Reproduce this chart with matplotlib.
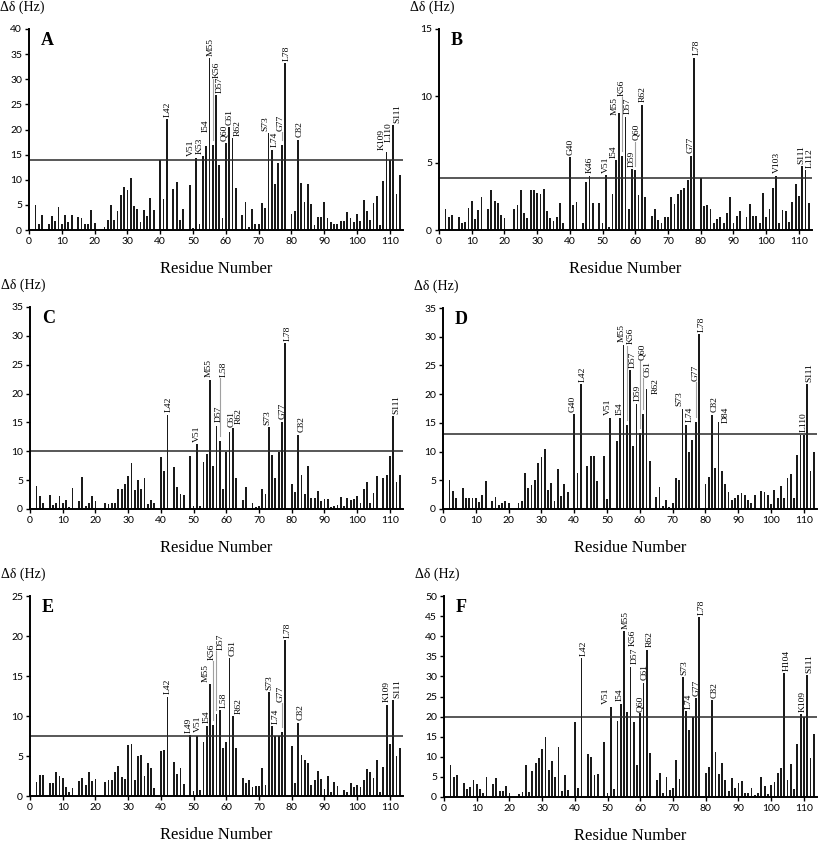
import numpy as np
import matplotlib
matplotlib.use("Agg")
import matplotlib.pyplot as plt

# residue numbers 1..113, 0 = not observed
residues = np.arange(1, 114)

vals_A = [0, 5.0, 1.2, 3.0, 0, 1.1, 2.7, 1.8, 4.5, 1.1,
          3.0, 1.5, 3.0, 0, 2.5, 2.3, 1.1, 1.1, 4.0, 1.3,
          0, 0, 0.5, 2.0, 5.0, 2.0, 3.7, 7.0, 8.6, 8.0,
          10.3, 4.8, 4.2, 1.5, 4.0, 2.8, 6.3, 4.0, 0, 14.0,
          6.2, 22.0, 0, 8.2, 9.5, 2.0, 4.1, 0, 9.0, 0.4,
          14.3, 1.2, 14.7, 16.8, 34.2, 16.9, 26.8, 12.9, 2.3, 17.3,
          20.5, 18.3, 8.4, 0, 3.0, 5.6, 0.6, 4.1, 1.1, 1.2,
          5.4, 4.4, 19.3, 16.0, 9.2, 13.4, 16.9, 33.2, 0, 3.2,
          3.8, 18.0, 9.4, 5.5, 9.2, 5.1, 1.0, 2.5, 2.5, 5.5,
          2.3, 1.5, 1.2, 1.2, 1.7, 1.8, 3.5, 2.4, 1.6, 3.1,
          1.8, 5.9, 3.8, 1.9, 5.4, 6.7, 1.0, 9.8, 15.5, 13.9,
          20.8, 7.1, 10.9]

vals_B = [0, 1.55, 0.95, 1.1, 0, 1.0, 0.5, 0.6, 1.65, 2.15,
          0.8, 1.5, 2.5, 0, 1.6, 3.0, 2.2, 2.0, 1.1, 0.9,
          0, 0, 1.6, 1.9, 3.0, 1.3, 0.9, 2.95, 3.0, 2.75,
          2.7, 3.05, 1.4, 0.9, 0.7, 1.0, 2.0, 0.5, 0, 5.45,
          1.85, 2.1, 0, 0.5, 3.55, 4.05, 2.05, 0, 2.0, 0.5,
          4.1, 0.2, 2.7, 5.2, 8.75, 5.5, 8.45, 1.6, 4.55, 4.45,
          2.6, 9.35, 2.5, 0, 1.05, 1.6, 0.75, 0.55, 0.95, 0.95,
          2.45, 1.95, 2.7, 2.95, 3.15, 3.75, 5.55, 12.85, 0, 3.85,
          1.8, 1.9, 1.55, 0.5, 0.85, 0.95, 0.55, 1.25, 2.5, 0.5,
          1.05, 1.45, 0, 1.0, 1.95, 1.05, 1.05, 0.5, 2.75, 1.0,
          1.55, 3.1, 4.05, 0.55, 1.5, 1.45, 0.6, 2.1, 3.45, 2.55,
          4.75, 4.45, 2.05]

vals_C = [0, 4.0, 2.25, 1.1, 0, 2.5, 0.7, 1.1, 2.25, 1.1,
          1.6, 0.35, 3.65, 0, 1.3, 5.55, 0.6, 1.1, 2.25, 1.3,
          0, 0, 1.1, 0.8, 1.1, 1.1, 3.55, 3.4, 4.35, 5.75,
          8.0, 3.25, 5.05, 3.5, 5.45, 0.9, 1.6, 1.1, 0, 9.0,
          6.65, 16.35, 0, 7.3, 3.8, 2.65, 2.5, 0, 9.15, 0.5,
          11.2, 0.6, 8.2, 9.5, 22.4, 7.5, 14.4, 11.8, 3.5, 9.8,
          13.4, 14.0, 5.4, 0, 1.6, 3.8, 0.2, 1.0, 0.3, 0.6,
          3.5, 2.65, 14.2, 9.3, 5.4, 9.9, 15.1, 28.7, 0, 4.3,
          2.9, 12.9, 5.85, 2.65, 7.45, 1.95, 1.95, 3.2, 1.3, 1.7,
          1.7, 0.35, 0.6, 0.7, 2.1, 0.45, 1.85, 1.5, 1.7, 2.25,
          1.1, 3.45, 4.6, 1.05, 2.85, 5.8, 0.25, 5.3, 5.95, 9.15,
          16.1, 4.6, 5.95]

vals_D = [0, 5.0, 3.1, 1.85, 0, 3.7, 2.0, 2.0, 2.0, 2.0,
          1.3, 2.5, 4.9, 0, 1.45, 2.1, 0.75, 1.1, 1.4, 1.0,
          0, 0, 1.1, 1.45, 6.2, 3.65, 4.25, 5.0, 8.0, 9.1,
          10.4, 3.3, 4.55, 1.45, 7.0, 2.2, 4.35, 2.9, 0, 16.5,
          6.3, 21.7, 0, 7.45, 9.2, 9.2, 4.95, 0, 9.25, 1.8,
          15.9, 0.2, 11.8, 15.9, 28.6, 14.6, 24.2, 11.0, 18.3, 13.2,
          16.6, 20.9, 8.4, 0, 2.1, 3.8, 0.5, 1.55, 0.4, 1.1,
          5.4, 5.1, 17.5, 14.7, 9.95, 12.1, 15.1, 30.4, 0, 4.3,
          5.5, 16.4, 7.2, 15.1, 6.6, 4.4, 2.95, 1.55, 1.95, 2.5,
          2.8, 2.5, 1.5, 1.05, 2.45, 0, 3.1, 2.95, 2.5, 0.9,
          3.35, 1.95, 4.0, 1.9, 5.4, 6.1, 1.95, 9.4, 12.95, 12.95,
          21.7, 6.6, 9.9]

vals_E = [0, 1.75, 2.6, 2.6, 0, 1.6, 1.6, 3.0, 2.5, 2.25,
          1.1, 0.5, 1.0, 0, 1.9, 2.25, 1.35, 2.95, 1.85, 2.15,
          0, 0, 1.8, 2.0, 2.0, 3.0, 3.8, 2.35, 2.1, 6.4,
          6.5, 2.0, 4.95, 5.15, 2.45, 4.1, 3.5, 0.95, 0, 5.6,
          5.7, 12.4, 0, 4.3, 2.7, 3.45, 1.5, 0, 7.6, 0.65,
          7.45, 0.8, 6.8, 8.75, 13.95, 8.9, 10.2, 10.7, 6.0, 6.7,
          17.2, 10.0, 6.0, 0, 2.25, 1.6, 2.05, 1.1, 1.25, 1.25,
          3.5, 1.4, 13.0, 8.7, 7.45, 7.45, 8.0, 19.5, 0, 6.3,
          1.65, 9.15, 5.15, 4.45, 4.1, 1.4, 1.95, 3.1, 2.1, 0.9,
          2.45, 0.5, 1.8, 1.25, 0, 0.8, 0.5, 1.6, 1.1, 1.4,
          1.1, 2.0, 3.4, 3.0, 2.25, 4.55, 0.5, 3.6, 11.4, 6.55,
          12.0, 4.95, 5.95]

vals_F = [0, 7.9, 5.0, 5.4, 0, 3.5, 2.1, 2.4, 4.25, 3.15,
          2.1, 1.1, 4.9, 0, 3.15, 4.65, 1.5, 1.5, 2.85, 1.0,
          0, 0, 0.75, 1.15, 8.05, 1.15, 6.4, 8.55, 9.75, 12.05,
          15.0, 6.65, 9.0, 4.9, 12.55, 1.6, 5.55, 1.75, 0, 18.55,
          2.25, 34.5, 0, 10.65, 10.0, 5.5, 5.75, 0, 13.7, 1.1,
          22.5, 2.0, 19.0, 23.2, 41.25, 21.1, 32.4, 18.7, 7.9, 20.8,
          28.4, 36.6, 10.9, 0, 4.35, 6.0, 1.1, 5.0, 1.75, 2.15,
          9.25, 4.6, 29.8, 21.3, 16.6, 19.9, 24.6, 44.75, 0, 5.9,
          7.5, 24.1, 11.3, 5.6, 8.5, 4.2, 1.5, 4.85, 2.25, 3.6,
          3.9, 1.1, 1.1, 2.15, 0.4, 1.1, 5.0, 2.65, 0.75, 3.1,
          3.65, 5.9, 7.25, 30.75, 4.35, 8.25, 2.0, 13.25, 20.6, 19.9,
          30.3, 9.8, 15.6]

thresholds = {"A": 14.0, "B": 3.9, "C": 10.0, "D": 13.0, "E": 7.5, "F": 19.8}
ymax = {"A": 40, "B": 15, "C": 35, "D": 35, "E": 25, "F": 50}

# label -> (x position, bottom y or None = just above the bar)
labels_A = {"L42": (42.4, None), "V51": (49.4, None), "K53": (51.9, None),
            "I54": (54.0, 19.6), "M55": (55.3, None), "K56": (57.1, 30.3),
            "D57": (58.1, None), "Q60": (59.4, None), "C61": (61.3, None),
            "R62": (63.6, None), "S73": (72.2, None), "L74": (74.8, None),
            "G77": (76.7, 19.8), "L78": (78.6, None), "C82": (82.4, None),
            "K109": (107.4, None), "L110": (109.7, 17.6), "S111": (112.2, None)}
labels_B = {"G40": (40.3, None), "K46": (46.1, None), "V51": (50.9, None),
            "I54": (53.4, None), "M55": (53.6, 8.55), "K56": (55.7, 10.0),
            "D57": (57.6, None), "D59": (58.8, None), "Q60": (60.4, 6.7),
            "R62": (62.2, None), "G77": (76.9, None), "L78": (78.8, None),
            "V103": (103.3, None), "S111": (110.6, None), "L112": (113.2, None)}
labels_C = {"L42": (42.5, None), "V51": (51.1, None), "M55": (54.7, None),
            "D57": (57.6, 15.0), "L58": (59.1, 22.9), "C61": (61.6, 14.2),
            "R62": (63.9, 14.8), "S73": (72.4, None), "G77": (77.2, None),
            "L78": (78.9, None), "C82": (83.0, None), "S111": (111.9, None)}
labels_D = {"G40": (39.5, None), "L42": (42.6, None), "V51": (50.3, None),
            "I54": (54.0, None), "M55": (54.6, None), "K56": (57.2, 28.7),
            "D57": (57.8, None), "D59": (59.3, None), "Q60": (60.7, 26.0),
            "C61": (62.3, 23.0), "R62": (64.9, 20.0), "S73": (72.0, None),
            "L74": (75.3, None), "G77": (76.9, 22.3), "L78": (78.7, None),
            "C82": (82.7, None), "D84": (86.1, 15.0), "L110": (110.0, None),
            "S111": (111.8, None)}
labels_E = {"L42": (42.1, None), "L49": (48.6, None), "V51": (51.2, 8.0),
            "I54": (54.1, 9.1), "M55": (53.7, None), "K56": (55.4, 17.0),
            "D57": (58.4, 18.3), "L58": (59.3, None), "C61": (61.8, None),
            "R62": (63.8, None), "S73": (73.1, None), "L74": (75.2, 9.0),
            "G77": (76.5, 11.8), "L78": (78.7, None), "C82": (82.6, None),
            "K109": (109.0, None), "S111": (112.2, None)}
labels_F = {"L42": (42.6, None), "V51": (49.5, None), "I54": (53.8, None),
            "M55": (55.4, None), "K56": (57.8, 37.5), "D57": (58.3, None),
            "Q60": (59.9, 21.2), "C61": (61.3, None), "R62": (62.9, None),
            "S73": (73.4, None), "L74": (74.9, 22.0), "G77": (77.1, None),
            "L78": (78.9, None), "C82": (82.7, None), "H104": (104.6, None),
            "K109": (109.6, None), "S111": (111.7, None)}

# labels joined to their bar by a thin grey line
leaders = {
    "A": ["K56", "G77"],
    "B": ["K56", "Q60"],
    "C": ["L58"],
    "D": ["K56", "Q60", "C61", "G77"],
    "E": ["K56", "D57", "G77"],
    "F": [],
}

panels = [
    ("A", vals_A, labels_A, (29, 230, 403, 29)),
    ("B", vals_B, labels_B, (439, 230, 812, 29)),
    ("C", vals_C, labels_C, (30, 509, 403, 307)),
    ("D", vals_D, labels_D, (443, 509, 817, 308)),
    ("E", vals_E, labels_E, (30, 796, 403, 596)),
    ("F", vals_F, labels_F, (444, 797, 817, 596)),
]

W, H = 819, 844
fig = plt.figure(figsize=(W / 100, H / 100), dpi=100)
serif = "Liberation Serif"
tickfont = "Lato"

for name, vals, labs, (l, b, r, t) in panels:
    ax = fig.add_axes([l / W, 1 - b / H, (r - l) / W, (b - t) / H])
    vals = np.array(vals)
    ax.bar(residues, vals, width=0.55, color="#1a1a1a", linewidth=0)
    ax.axhline(thresholds[name], color="#2a2a2a", lw=1.1)
    ax.set_xlim(0, 114)
    ax.set_ylim(0, ymax[name])
    ax.set_xticks(np.arange(0, 111, 10))
    ax.set_yticks(np.arange(0, ymax[name] + 0.1, 5))
    for s in ("top", "right"):
        ax.spines[s].set_visible(False)
    for s in ("left", "bottom"):
        ax.spines[s].set_linewidth(1.4)
    ax.tick_params(direction="out", length=3, width=1.0, labelsize=7.5, pad=2)
    for tl in ax.get_xticklabels() + ax.get_yticklabels():
        tl.set_fontfamily(tickfont)
    ax.set_xlabel("Residue Number", fontsize=12, family=serif, labelpad=11)

    pad = ymax[name] * 0.012
    for lab, (lx, ly) in labs.items():
        res = int(lab[1:])
        v = vals[res - 1]
        if ly is None:
            ly = v + pad
        if lab in leaders[name]:
            ax.plot([res, res], [v + pad * 2, ly - pad * 0.6], color="#a0a0a0", lw=0.8)
        ax.text(lx, ly, lab, rotation=90, ha="center", va="bottom",
                fontsize=6.8, family=serif)

    ax.text(12 / (r - l), 1 - 3 / (b - t), name, transform=ax.transAxes,
            ha="left", va="top", fontsize=13, fontweight="bold", family=serif)
    fig.text((l - 29) / W, 1 - (t - 22) / H, "Δδ (Hz)", ha="left", va="center",
             fontsize=10, family=serif)

fig.savefig("out.png", dpi=100)
